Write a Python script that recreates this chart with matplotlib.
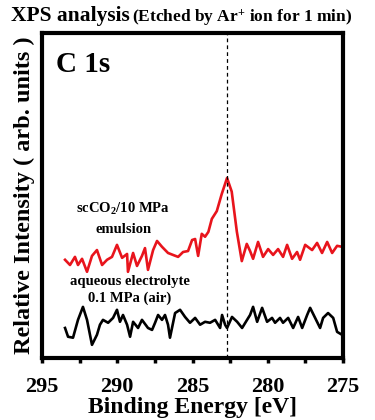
import matplotlib
matplotlib.use('Agg')
from matplotlib import pyplot as plt
from matplotlib.ticker import MultipleLocator

plt.rcParams['font.family'] = ['Liberation Serif', 'DejaVu Serif']
plt.rcParams['font.weight'] = 'bold'
plt.rcParams['mathtext.fontset'] = 'custom'
plt.rcParams['mathtext.rm'] = 'Liberation Serif:bold'
plt.rcParams['mathtext.it'] = 'Liberation Serif:bold'
plt.rcParams['mathtext.bf'] = 'Liberation Serif:bold'

# scCO2 / 10 MPa emulsion (red)
sc_ev = [293.47, 293.14, 292.81, 292.61, 292.34, 292.01, 291.68, 291.35, 291.01, 290.68,
         290.35, 290.02, 289.68, 289.35, 289.29, 288.95, 288.69, 288.36, 288.16, 287.96,
         287.62, 287.36, 287.03, 286.63, 286.30, 285.96, 285.63, 285.30, 285.03, 284.83,
         284.63, 284.39, 284.17, 283.95, 283.72, 283.39, 283.06, 282.71, 282.40, 282.06,
         281.73, 281.40, 281.18, 280.98, 280.65, 280.32, 279.98, 279.65, 279.32, 278.99,
         278.72, 278.39, 278.06, 277.86, 277.52, 277.06, 276.73, 276.40, 276.06, 275.73,
         275.40, 275.07]
sc_int = [30.2, 28.6, 31.1, 28.6, 30.5, 26.5, 31.4, 33.2, 28.6, 30.2,
          31.1, 34.8, 30.8, 32.0, 26.5, 32.3, 28.3, 31.4, 33.8, 27.1,
          33.2, 36.0, 34.2, 32.3, 31.7, 31.1, 32.6, 32.9, 36.3, 36.6,
          31.4, 38.2, 37.3, 38.8, 42.8, 45.2, 50.5, 55.4, 51.2, 38.9,
          29.8, 35.1, 32.9, 30.5, 35.7, 31.1, 33.5, 31.7, 33.5, 31.1,
          34.8, 30.5, 32.6, 30.2, 34.8, 33.2, 35.4, 32.3, 35.7, 32.3,
          34.5, 34.2]

# aqueous electrolyte / 0.1 MPa (air) (black)
aq_ev = [293.47, 293.27, 292.94, 292.61, 292.28, 292.01, 291.68, 291.35, 291.15, 290.95,
         290.61, 290.28, 290.02, 289.82, 289.62, 289.35, 289.15, 288.95, 288.62, 288.36,
         287.96, 287.69, 287.49, 287.29, 287.03, 286.83, 286.63, 286.50, 286.16, 285.83,
         285.50, 285.17, 284.83, 284.50, 284.17, 283.84, 283.50, 283.17, 283.04, 282.84,
         282.71, 282.38, 282.04, 281.71, 281.38, 281.18, 280.98, 280.71, 280.38, 280.05,
         279.72, 279.52, 279.19, 278.99, 278.65, 278.32, 277.99, 277.72, 277.39, 277.19,
         276.86, 276.53, 276.33, 276.00, 275.66, 275.40, 275.07]
aq_int = [9.2, 6.5, 6.2, 11.7, 15.7, 11.7, 4.0, 7.1, 10.2, 11.7,
          10.8, 12.3, 14.8, 11.1, 13.2, 10.2, 6.5, 11.1, 9.2, 11.7,
          9.2, 8.6, 10.8, 13.2, 11.7, 13.2, 10.2, 6.2, 13.8, 14.8,
          12.6, 10.8, 12.3, 10.2, 11.1, 10.8, 11.7, 9.2, 13.2, 10.2,
          9.2, 12.6, 11.1, 9.2, 11.7, 13.2, 15.7, 11.1, 15.4, 11.1,
          12.3, 10.8, 12.3, 10.8, 12.3, 9.2, 12.6, 9.2, 13.2, 15.4,
          12.3, 9.2, 12.3, 13.8, 12.3, 8.0, 7.1]

peak_ev = 282.7

fig = plt.figure(figsize=(3.75, 4.2), dpi=100)
ax = fig.add_axes([0.112, 0.148, 0.803, 0.773])

ax.plot(sc_ev, sc_int, color='#e8141c', linewidth=1.9)
ax.plot(aq_ev, aq_int, color='black', linewidth=1.9)
ax.axvline(peak_ev, color='black', linestyle=(0, (3, 2.5)), linewidth=0.9)

ax.set_xlim(295, 275)
ax.set_ylim(0, 100)
ax.xaxis.set_major_locator(MultipleLocator(5))
ax.xaxis.set_minor_locator(MultipleLocator(2.5))
ax.tick_params(axis='x', which='both', direction='out', length=3.5, width=2.5, labelsize=16, pad=10)
ax.set_yticks([])
for s in ax.spines.values():
	s.set_linewidth(3)

ax.set_xlabel("Binding Energy [eV]", fontsize=17, fontweight='bold', labelpad=0)
ax.set_ylabel("Relative Intensity ( arb. units )", fontsize=17.5, fontweight='bold', labelpad=5)

ax.text(0.045, 0.945, "C 1s", transform=ax.transAxes, fontsize=21, fontweight='bold', va='top', ha='left')
ax.text(289.62, 45.8, "scCO$_{2}$/10 MPa", fontsize=10.5, fontweight='bold', ha='center', va='center')
ax.text(289.55, 39.4, "emulsion", fontsize=10.5, fontweight='bold', ha='center', va='center')
ax.text(289.15, 23.4, "aqueous electrolyte", fontsize=10.5, fontweight='bold', ha='center', va='center')
ax.text(289.15, 18.2, "0.1 MPa (air)", fontsize=10.5, fontweight='bold', ha='center', va='center')

fig.text(0.03, 0.962, "XPS analysis", fontsize=15.5, fontweight='bold', ha='left', va='center')
fig.text(0.352, 0.957, "(Etched by Ar$^{+}$ ion for 1 min)", fontsize=12.5, fontweight='bold', ha='left', va='center')

plt.savefig("out.png", dpi=100)
